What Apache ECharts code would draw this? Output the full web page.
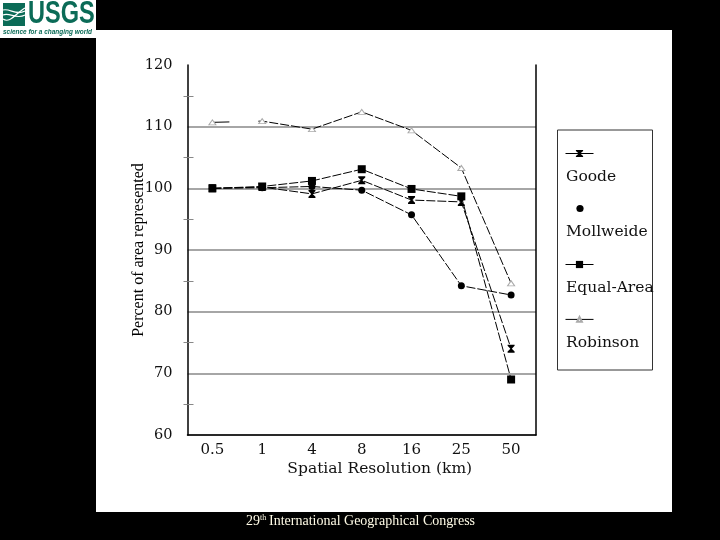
<!DOCTYPE html>
<html>
<head>
<meta charset="utf-8">
<style>
  html, body { margin: 0; padding: 0; background: #000; }
  #chart { width: 720px; height: 540px; }
</style>
<script src="https://cdn.jsdelivr.net/npm/echarts@6/dist/echarts.min.js"></script>
</head>
<body>
<div id="chart"></div>
<script>
const resolutions = ['0.5', '1', '4', '8', '16', '25', '50'];
const goode = [100, 100.2, 99.1, 101.3, 98.1, 97.8, 74];
const mollweide = [100, 100.1, 100.3, 99.7, 95.7, 84.2, 82.7];
const equalArea = [100, 100.3, 101.2, 103.1, 99.9, 98.7, 69];
const robinson = [110.7, 110.9, 109.6, 112.4, 109.4, 103.3, 84.6];
const seriesNames = ['Goode', 'Mollweide', 'Equal-Area', 'Robinson'];
const majorTicks = [60, 70, 80, 90, 100, 110];

const serif = '"Liberation Serif"';
const wide = '"DejaVu Serif"';
const hourglass = 'path://M0 0H10V1.5L6 5L10 8.5V10H0V8.5L4 5L0 1.5Z';
const dashed = [9, 2];
// the first Robinson segment has mostly dropped out of the scan
const robinsonDash = [17, 29].concat(...Array(60).fill(dashed));

function line(name, data, symbol, size, itemStyle, dash) {
  return {
    name: name,
    type: 'line',
    data: data,
    symbol: symbol,
    symbolSize: size,
    showAllSymbol: true,
    animation: false,
    itemStyle: itemStyle || { color: '#000' },
    lineStyle: { color: '#000', width: 1, type: dash || dashed }
  };
}

function legendAt(name, top, lineStyle, itemHeight) {
  return {
    data: [{ name: name, lineStyle: lineStyle || { type: 'solid', width: 1 } }],
    left: 565,
    top: top,
    itemWidth: 28,
    itemHeight: itemHeight || 9,
    padding: 0,
    selectedMode: false,
    formatter: () => '',
    textStyle: { fontSize: 1 }
  };
}

function wave(y1, cy1, cy2, y2) {
  return {
    type: 'bezierCurve', z: 7,
    shape: { x1: 3, y1: y1, cpx1: 10, cpy1: cy1, cpx2: 16, cpy2: cy2, x2: 25, y2: y2 },
    style: { fill: 'none', stroke: '#fff', lineWidth: 1.2 }
  };
}

const legendTextY = [177, 232, 288, 343];

const plot = { left: 187.5, top: 65, width: 348.5, height: 370 };

const chart = echarts.init(document.getElementById('chart'));
chart.setOption({
  backgroundColor: '#000',
  animation: false,
  // second grid only carries the inner half of the ticks
  grid: [plot, plot],
  legend: [
    legendAt('Goode', 149),
    legendAt('Mollweide', 204, { opacity: 0 }),
    legendAt('Equal-Area', 260),
    legendAt('Robinson', 316, null, 6)
  ],
  xAxis: [{
    type: 'category',
    data: resolutions,
    name: 'Spatial Resolution (km)',
    nameLocation: 'middle',
    nameGap: 26,
    nameMoveOverlap: false,
    nameTextStyle: { fontFamily: wide, fontSize: 15.5, color: '#111', padding: [0, 0, 0, 36] },
    axisLine: { lineStyle: { color: '#000', width: 1.5 } },
    axisTick: { alignWithLabel: true, length: 6, lineStyle: { color: '#888' } },
    axisLabel: { fontFamily: wide, fontSize: 15, color: '#111', margin: 8 },
    splitLine: { show: false }
  }, {
    gridIndex: 1,
    type: 'category',
    data: resolutions,
    axisLine: { show: false },
    axisTick: { inside: true, alignWithLabel: true, length: 6, lineStyle: { color: '#888' } },
    axisLabel: { show: false }
  }],
  yAxis: [{
    type: 'value',
    min: 60,
    max: 120,
    interval: 10,
    name: 'Percent of area represented',
    nameLocation: 'middle',
    nameRotate: 90,
    nameGap: 41,
    nameMoveOverlap: false,
    nameTextStyle: { fontFamily: serif, fontSize: 16, color: '#000' },
    axisLine: { show: true, lineStyle: { color: '#000', width: 1.5 } },
    axisTick: { customValues: majorTicks, length: 6, lineStyle: { color: '#888' } },
    minorTick: { show: true, splitNumber: 2, length: 4, lineStyle: { color: '#888' } },
    axisLabel: { fontFamily: wide, fontSize: 14.5, color: '#111', margin: 15 },
    splitLine: { lineStyle: { color: '#888', width: 1.5 } }
  }, {
    // right hand border of the plot
    type: 'value',
    min: 60,
    max: 120,
    interval: 10,
    position: 'right',
    axisLine: { show: true, lineStyle: { color: '#000', width: 1.5 } },
    axisTick: { show: false },
    axisLabel: { show: false },
    splitLine: { show: false }
  }, {
    gridIndex: 1,
    type: 'value',
    min: 60,
    max: 120,
    interval: 10,
    axisLine: { show: false },
    axisTick: { show: false, inside: true },
    minorTick: { show: true, splitNumber: 2, length: 6, lineStyle: { color: '#888' } },
    axisLabel: { show: false },
    splitLine: { show: false }
  }],
  series: [
    line('Robinson', robinson, 'triangle', [7, 5], { color: '#fff', borderColor: '#aaa', borderWidth: 1 }, robinsonDash),
    line('Goode', goode, hourglass, [7, 8]),
    line('Mollweide', mollweide, 'circle', 7),
    line('Equal-Area', equalArea, 'rect', 8)
  ],
  graphic: [
    { type: 'rect', z: -10, shape: { x: 96, y: 30, width: 576, height: 482 }, style: { fill: '#fff' } },
    { type: 'rect', z: -5, shape: { x: 557.5, y: 130, width: 95, height: 240 }, style: { fill: '#fff', stroke: '#333', lineWidth: 1 } },
    ...seriesNames.map((name, i) => ({
      type: 'text', z: 5, x: 566, y: legendTextY[i],
      style: { text: name, font: '15.5px ' + wide, fill: '#111', verticalAlign: 'middle' }
    })),
    // logo
    { type: 'rect', z: 5, shape: { x: 0, y: 0, width: 96, height: 38 }, style: { fill: '#fff' } },
    { type: 'rect', z: 6, shape: { x: 3, y: 3, width: 22, height: 23 }, style: { fill: '#0b6b57' } },
    wave(10, 8, 16, 11),
    wave(15, 12, 20, 15),
    wave(19, 24, 13, 8),
    { type: 'text', z: 7, x: 28, y: 14.5, scaleX: 0.76, style: { text: 'USGS', font: 'bold 31px "Liberation Sans"', fill: '#0b6b57', verticalAlign: 'middle' } },
    { type: 'text', z: 7, x: 3, y: 32, scaleX: 0.86, style: { text: 'science for a changing world', font: 'italic bold 7.5px "Liberation Sans"', fill: '#0b6b57', verticalAlign: 'middle' } },
    // footer
    { type: 'text', z: 5, x: 246, y: 521, style: { text: '29', font: '14px ' + serif, fill: '#fffbe6', verticalAlign: 'middle' } },
    { type: 'text', z: 5, x: 260, y: 518, style: { text: 'th', font: '8px ' + serif, fill: '#fffbe6', verticalAlign: 'middle' } },
    { type: 'text', z: 5, x: 269, y: 521, style: { text: 'International Geographical Congress', font: '14px ' + serif, fill: '#fffbe6', verticalAlign: 'middle' } }
  ]
});
</script>
</body>
</html>
